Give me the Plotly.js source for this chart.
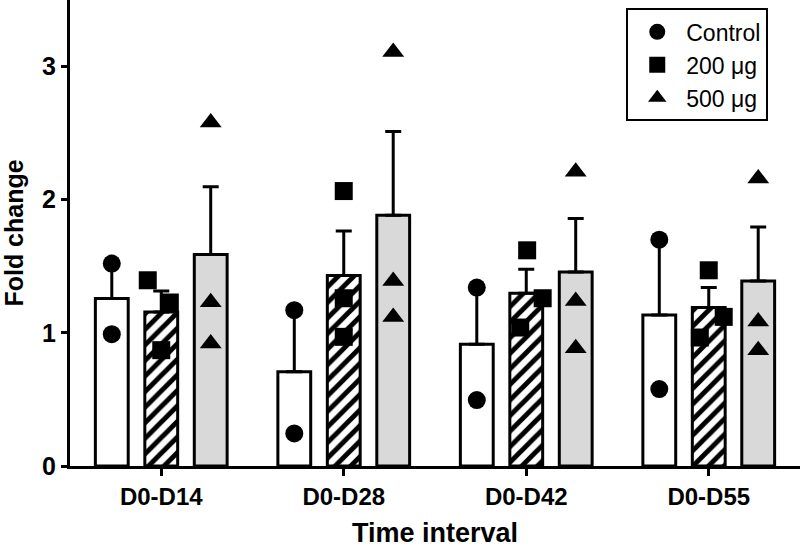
<!DOCTYPE html>
<html>
<head>
<meta charset="utf-8">
<script src="https://cdn.plot.ly/plotly-3.0.1.min.js"></script>
<style>
  html, body { margin: 0; padding: 0; background: #ffffff; }
  #chart { width: 800px; height: 548px; }
</style>
</head>
<body>
<div id="chart"></div>
<script>
// ---- Data ----
const categories = ['D0-D14', 'D0-D28', 'D0-D42', 'D0-D55'];
const seriesNames = ['Control', '200 μg', '500 μg'];

const controlMean = [1.258, 0.707, 0.915, 1.135];
const controlSEM  = [0.265, 0.460, 0.420, 0.560];
const dose200Mean = [1.157, 1.430, 1.298, 1.190];
const dose200SEM  = [0.158, 0.335, 0.180, 0.150];
const dose500Mean = [1.588, 1.883, 1.458, 1.390];
const dose500SEM  = [0.510, 0.630, 0.400, 0.405];

const controlPoints = [[1.52, 0.99], [1.17, 0.245], [1.34, 0.495], [1.70, 0.578]];
const dose200Points = [[1.395, 1.228, 0.87], [2.065, 1.26, 0.97], [1.62, 1.26, 1.04], [1.47, 1.12, 0.965]];
const dose500Points = [[2.58, 1.23, 0.92], [3.11, 1.39, 1.12], [2.21, 1.24, 0.885], [2.16, 1.085, 0.87]];

// ---- Styling / layout helpers ----
const FONT = 'Arial, "Liberation Sans", Helvetica, sans-serif';
const slot = 0.271;              // group slot spacing in category units
const groupOffsets = [-slot, 0, slot];
// small horizontal scatter of individual points (visual jitter, category units)
const jitter = [
  [[0, 0], [0, 0], [0, 0], [0, 0]],
  [[-0.074, 0.047, 0], [0, 0, 0], [0.005, 0.09, -0.033], [0, 0.082, -0.049]],
  [[0, 0, 0], [0, 0, 0], [0, 0, 0], [0, 0, 0]]
];
const symbols = ['circle', 'square', 'triangle-up'];
const symbolSizes = [18, 18, 19];

const idx = categories.map((c, i) => i);

const means = [controlMean, dose200Mean, dose500Mean];
const sems = [controlSEM, dose200SEM, dose500SEM];
const points = [controlPoints, dose200Points, dose500Points];

const barMarkers = [
  { color: '#ffffff', line: { color: '#000000', width: 3 } },
  { color: '#ffffff', line: { color: '#000000', width: 3 },
    pattern: { shape: '/', fgcolor: '#000000', bgcolor: '#ffffff', size: 11, solidity: 0.45 } },
  { color: '#d9d9d9', line: { color: '#000000', width: 3 } }
];

const traces = [];
for (let k = 0; k < 3; k++) {
  traces.push({
    type: 'bar',
    x: idx,
    y: means[k],
    name: seriesNames[k],
    showlegend: false,
    marker: barMarkers[k],
    error_y: {
      type: 'data', symmetric: false, array: sems[k], arrayminus: sems[k].map(() => 0),
      color: '#000000', thickness: 3, width: 8
    },
    hoverinfo: 'skip'
  });
}
for (let k = 0; k < 3; k++) {
  const xs = [], ys = [];
  points[k].forEach((vals, i) => {
    vals.forEach((v, j) => {
      xs.push(i + groupOffsets[k] + jitter[k][i][j]);
      ys.push(v);
    });
  });
  traces.push({
    type: 'scatter',
    mode: 'markers',
    x: xs,
    y: ys,
    name: seriesNames[k],
    marker: { symbol: symbols[k], size: symbolSizes[k], color: '#000000' },
    showlegend: true
  });
}

const layout = {
  width: 800,
  height: 548,
  margin: { l: 70, r: 0, t: 0, b: 82 },
  paper_bgcolor: '#ffffff',
  plot_bgcolor: '#ffffff',
  barmode: 'group',
  bargap: 0.187,
  bargroupgap: 0.336,
  font: { family: FONT, color: '#000000' },
  showlegend: true,
  legend: {
    x: 0.762, y: 0.982, xanchor: 'left', yanchor: 'top',
    bordercolor: '#000000', borderwidth: 2, bgcolor: '#ffffff',
    font: { family: FONT, size: 23, color: '#000000' },
    itemsizing: 'trace', itemwidth: 48, tracegroupgap: 0
  },
  xaxis: {
    type: 'linear',
    range: [-0.5, 3.5],
    tickmode: 'array',
    tickvals: idx,
    ticktext: categories,
    showgrid: false, zeroline: false,
    showline: true, linecolor: '#000000', linewidth: 3,
    ticks: 'outside', ticklen: 7, tickwidth: 3, tickcolor: '#000000',
    tickfont: { family: FONT, size: 24, color: '#000000', weight: 'bold' },
    title: { text: '<b>Time interval</b>', font: { family: FONT, size: 27, color: '#000000' }, standoff: 20 },
    fixedrange: true
  },
  yaxis: {
    range: [0, 3.5],
    tickmode: 'array',
    tickvals: [0, 1, 2, 3],
    ticktext: ['0', '1', '2', '3'],
    showgrid: false, zeroline: false,
    showline: true, linecolor: '#000000', linewidth: 3,
    ticks: 'outside', ticklen: 6, tickwidth: 3, tickcolor: '#000000',
    tickfont: { family: FONT, size: 25, color: '#000000', weight: 'bold' },
    title: { text: '<b>Fold change</b>', font: { family: FONT, size: 25, color: '#000000' }, standoff: 12 },
    fixedrange: true
  }
};

Plotly.newPlot('chart', traces, layout, { displayModeBar: false, staticPlot: true });
</script>
</body>
</html>
